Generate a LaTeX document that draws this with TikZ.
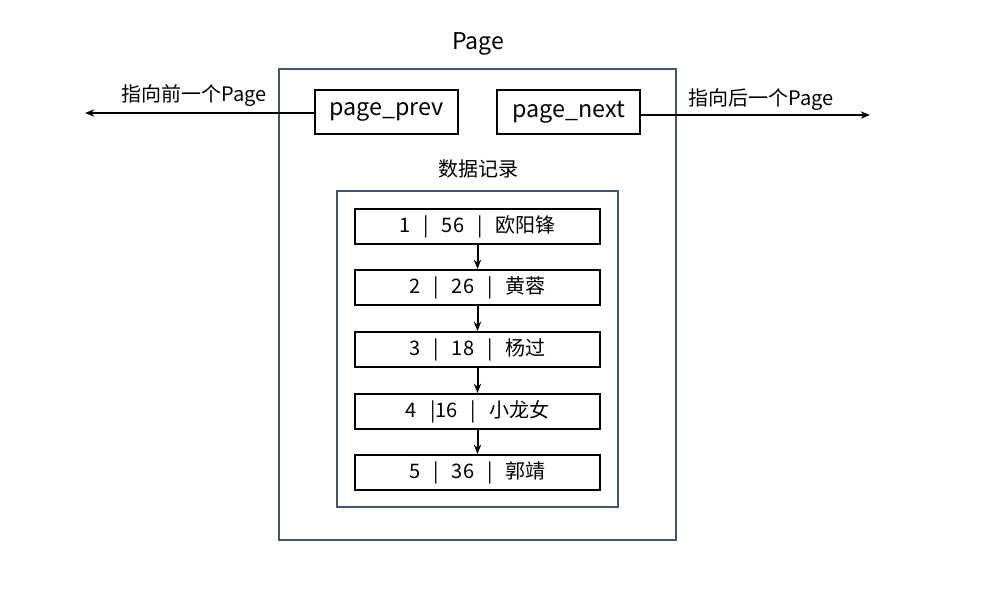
\documentclass[tikz,border=0pt]{standalone}
\usepackage{fontspec}
\setmainfont{Noto Sans CJK SC}
\usetikzlibrary{arrows.meta}
\definecolor{slate}{HTML}{44546A}
\newcommand{\sep}{\hspace{0.65em}|\hspace{0.65em}}
\begin{document}
\begin{tikzpicture}[x=0.75pt,y=-0.75pt,
  frame/.style={draw=slate,line width=1.5pt},
  field/.style={draw=black,line width=1.5pt,minimum width=143*0.75pt,minimum height=44*0.75pt,inner sep=0pt,font=\fontsize{17.5}{20}\selectfont},
  rec/.style={draw=black,line width=1.5pt,minimum width=245*0.75pt,minimum height=35*0.75pt,inner sep=0pt,font=\fontsize{15}{18}\selectfont},
  lbl/.style={font=\fontsize{15}{18}\selectfont,inner sep=0pt},
  arr/.style={line width=1.5pt,-{Stealth[length=7pt,width=5.5pt]}}]
\useasboundingbox (0,0) rectangle (1005,614);
\fill[white] (0,0) rectangle (1005,614);
\draw[frame] (279,69) rectangle (676,540);
\node[font=\fontsize{17.3}{20}\selectfont] (title) at (478,44) {Page};
\node[field] (prev) at (386.5,112) {\raisebox{-1pt}{page\_prev}};
\node[field] (next) at (568.5,112) {\raisebox{-1pt}{page\_next}};
\coordinate (lend) at (85,113);
\coordinate (rend) at (870,115);
\draw[arr] (prev.west |- lend) -- (lend);
\draw[arr] (next.east |- rend) -- (rend);
\node[lbl] (llbl) at (194,96) {指向前一个Page};
\node[lbl] (rlbl) at (761,100) {指向后一个Page};
\node[lbl] (data) at (478,169) {数据记录};
\draw[frame] (337,191) rectangle (618,507);
\node[rec] (r1) at (477.5,226.5) {\raisebox{-1.2pt}{1\sep 56\sep 欧阳锋}};
\node[rec] (r2) at (477.5,287.5) {\raisebox{-1.2pt}{2\sep 26\sep 黄蓉}};
\node[rec] (r3) at (477.5,349.5) {\raisebox{-1.2pt}{3\sep 18\sep 杨过}};
\node[rec] (r4) at (477.5,411.5) {\raisebox{-1.2pt}{4\hspace{0.65em}|16\sep 小龙女}};
\node[rec] (r5) at (477.5,472.5) {\raisebox{-1.2pt}{5\sep 36\sep 郭靖}};
\foreach \a/\b in {r1/r2,r2/r3,r3/r4,r4/r5}
  \draw[arr] (\a.south) -- (\b.north);
\end{tikzpicture}
\end{document}
